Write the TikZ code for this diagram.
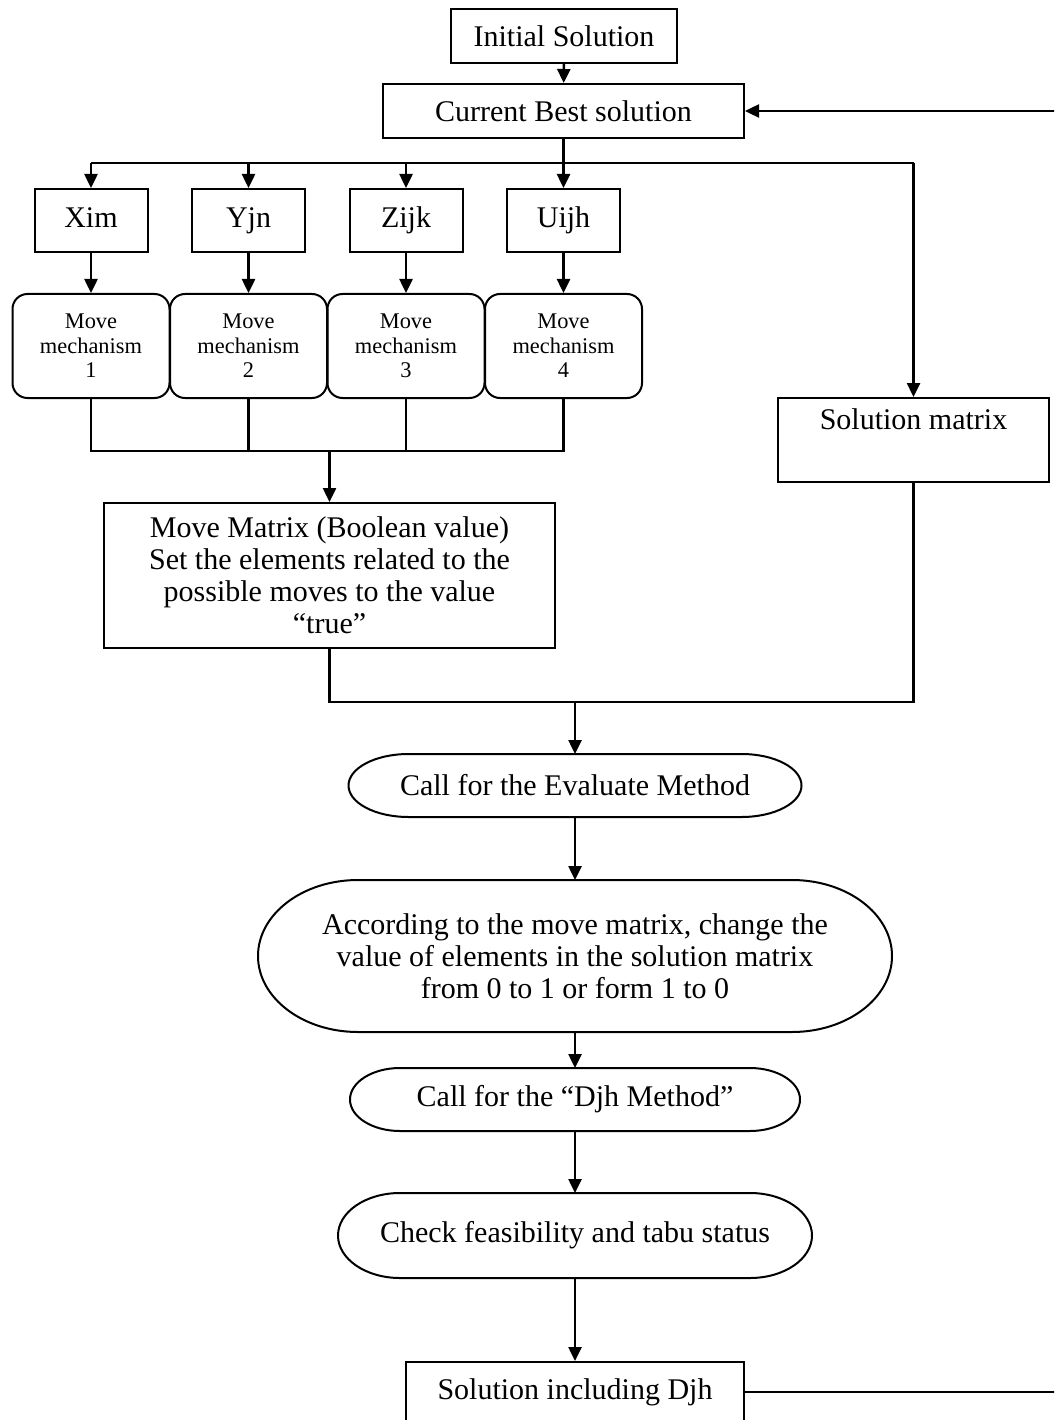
\documentclass[tikz,border=0pt]{standalone}
\usepackage{fontspec}
\setmainfont{Liberation Serif}
\usetikzlibrary{arrows.meta}

\begin{document}
\begin{tikzpicture}[x=1pt, y=1pt, line width=2.5pt, >={Triangle[length=14pt,width=13pt]},
	every node/.style={font=\fontsize{30}{32}\selectfont, align=center, inner sep=2pt},
	box/.style={draw, line width=2pt},
	var/.style={draw, line width=2pt, minimum width=113pt, minimum height=63pt, text height=20pt, text depth=6pt},
	mech/.style={draw, line width=2pt, rounded corners=15pt, minimum width=157pt, minimum height=104pt, font=\fontsize{22.4}{24.5}\selectfont},
	term/.style={outer sep=0pt}]
	\clip (0,0) rectangle (1054,-1420);

	\node [box, minimum width=226pt, minimum height=54pt] (init) at (564,-36) {Initial Solution};
	\node [box, minimum width=361pt, minimum height=54pt] (best) at (563.5,-111) {Current Best solution};
	\draw [->] (init) -- (best);

	\foreach \cx/\v/\i in {91/Xim/1, 248.5/Yjn/2, 406/Zijk/3, 563.5/Uijh/4} {
		\node [var] (v\i) at (\cx,-220.5) {\v};
		\node [mech] (m\i) at (\cx,-346) {Move\\mechanism\\\i};
		\draw [->] (v\i) -- (m\i);
	}

	\node [box, minimum width=451pt, minimum height=145pt] (mm) at (329.5,-575.5) {Move Matrix (Boolean value)\\Set the elements related to the\\possible moves to the value\\``true''};
	\node [box, minimum width=271pt, minimum height=84pt] (solmat) at (913.5,-440) {Solution matrix\\\strut};

	% split below the current best solution
	\coordinate (split) at (563.5,-163);
	\draw (best) -- (split);
	\draw (v1 |- split) -- (solmat |- split);
	\foreach \i in {1,...,4}
		\draw [->] (v\i |- split) -- (v\i);
	\draw [->] (solmat |- split) -- (solmat);

	% join of the move mechanisms
	\coordinate (join) at (329.5,-451);
	\draw (m1) -- (m1 |- join) -- (m4 |- join) -- (m4);
	\draw (m2) -- (m2 |- join);
	\draw (m3) -- (m3 |- join);
	\draw [->] (join) -- (mm);

	\node [term, minimum width=453pt, minimum height=63pt] (eval) at (575,-785.5) {Call for the Evaluate Method};
	\node [term, minimum width=634pt, minimum height=152pt] (change) at (575,-956) {According to the move matrix, change the\\value of elements in the solution matrix\\from 0 to 1 or form 1 to 0};
	\node [term, minimum width=450pt, minimum height=63pt] (djh) at (575,-1099.5) {Call for the ``Djh Method''};
	\node [term, minimum width=474pt, minimum height=85pt] (check) at (575,-1235.5) {Check feasibility and tabu status};
	\node [box, minimum width=338pt, minimum height=60pt] (final) at (575,-1392) {Solution including Djh};

	\foreach \n/\rx/\ry in {eval/60pt/31.5pt, change/100pt/76pt, djh/50pt/31.5pt, check/62pt/42.5pt}
		\draw [line width=2pt] ([xshift=\rx]\n.north west) -- ([xshift=-\rx]\n.north east)
			arc [start angle=90, end angle=-90, x radius=\rx, y radius=\ry]
			-- ([xshift=\rx]\n.south west)
			arc [start angle=270, end angle=90, x radius=\rx, y radius=\ry] -- cycle;

	% merge of move matrix and solution matrix
	\coordinate (merge) at (575,-702);
	\draw (mm) |- (merge) -- (solmat |- merge) -- (solmat);
	\draw [->] (merge) -- (eval);
	\draw [->] (eval) -- (change);
	\draw [->] (change) -- (djh);
	\draw [->] (djh) -- (check);
	\draw [->] (check) -- (final);
	\draw [->] (final) -- (1060,-1392) |- (best);
\end{tikzpicture}
\end{document}
